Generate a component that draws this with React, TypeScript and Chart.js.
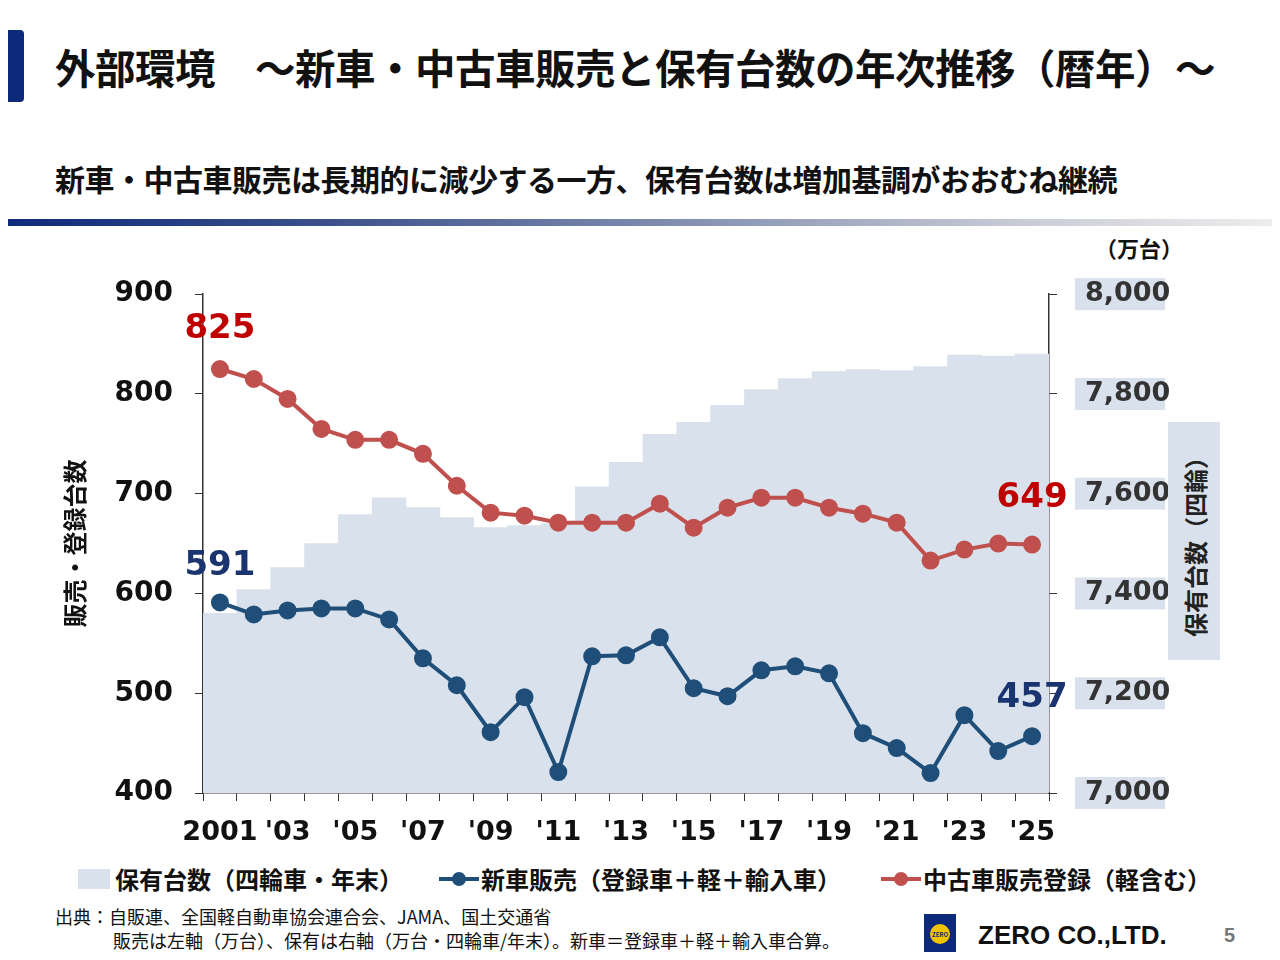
import React, { useEffect, useRef } from "react";
import { Chart, registerables } from "chart.js";
Chart.register(...registerables);

const years = ["2001","2002","2003","2004","2005","2006","2007","2008","2009","2010","2011","2012","2013","2014","2015","2016","2017","2018","2019","2020","2021","2022","2023","2024","2025"];
const tickLabels = ["2001","","'03","","'05","","'07","","'09","","'11","","'13","","'15","","'17","","'19","","'21","","'23","","'25"];
const newCar = [591,579,583,585,585,574,535,508,461,496,421,537,538,556,505,497,523,527,520,460,445,420,478,442,457];
const usedCar = [825,815,795,765,754,754,740,708,681,678,671,671,671,690,666,686,696,696,686,680,671,633,644,650,649];
const owned = [7360,7408,7452,7500,7558,7592,7572,7552,7532,7536,7540,7614,7663,7719,7743,7777,7809,7831,7845,7849,7847,7855,7878,7876,7880];

const FONT = "'DejaVu Sans', Verdana, sans-serif";
const JP = "'Noto Sans CJK JP', sans-serif";

const decor = {
  id: "decor",
  beforeDraw(chart: any) {
    const { ctx } = chart;
    const y1 = chart.scales.y1;
    ctx.save();
    ctx.fillStyle = "#d9e2ec";
    [7000, 7200, 7400, 7600, 7800, 8000].forEach((v) => {
      const py = y1.getPixelForValue(v);
      ctx.fillRect(y1.left + 26, py - 16, 90, 32);
    });
    ctx.restore();
  },
  afterDatasetsDraw(chart: any) {
    const { ctx } = chart;
    const draw = (di: number, idx: number, color: string, dx: number, dy: number) => {
      const pt = chart.getDatasetMeta(di).data[idx];
      const v = chart.data.datasets[di].data[idx];
      ctx.save();
      ctx.font = `bold 34px ${FONT}`;
      ctx.fillStyle = color;
      ctx.textAlign = "center";
      ctx.textBaseline = "middle";
      ctx.fillText(String(v), pt.x + dx, pt.y + dy);
      ctx.restore();
    };
    draw(0, 0, "#c00000", 0, -40);
    draw(1, 0, "#1a3470", 0, -36);
    draw(0, 24, "#c00000", 0, -46);
    draw(1, 24, "#1a3470", 0, -38);
  },
};

export default function App() {
  const ref = useRef<HTMLCanvasElement>(null);
  useEffect(() => {
    const chart = new Chart(ref.current!, {
      data: {
        labels: years,
        datasets: [
          { type: "line", label: "中古車販売", data: usedCar, yAxisID: "y", borderColor: "#c0504d", backgroundColor: "#c0504d", borderWidth: 4, pointRadius: 7, pointBackgroundColor: "#c0504d", order: 1 } as any,
          { type: "line", label: "新車", data: newCar, yAxisID: "y", borderColor: "#1f4e79", backgroundColor: "#1f4e79", borderWidth: 4, pointRadius: 7, pointBackgroundColor: "#1f4e79", order: 2 } as any,
          { type: "bar", label: "保有", data: owned, yAxisID: "y1", backgroundColor: "#d9e2ec", categoryPercentage: 1, barPercentage: 1, order: 5 } as any,
        ],
      },
      options: {
        animation: false,
        responsive: false,
        layout: { padding: { top: 41, left: 0, right: 0, bottom: 0 } },
        plugins: { legend: { display: false }, tooltip: { enabled: false } },
        scales: {
          x: {
            offset: true,
            grid: { display: true, drawOnChartArea: false, offset: true, tickLength: 8, color: "#333" },
            border: { color: "#333", width: 1.5 },
            ticks: { autoSkip: false, maxRotation: 0, color: "#111", font: { family: FONT, size: 27, weight: "bold" }, padding: 16, callback: (_v: any, i: number) => tickLabels[i] },
            afterFit: (s: any) => { s.height = 67; },
          },
          y: {
            position: "left", min: 400, max: 900,
            ticks: { stepSize: 100, color: "#111", font: { family: FONT, size: 28, weight: "bold" }, padding: 22 },
            grid: { drawOnChartArea: false, tickLength: 8, color: "#333" },
            border: { color: "#333", width: 1.5 },
            title: { display: true, text: "販売・登録台数", color: "#111", padding: { top: 0, bottom: 0 }, font: { family: JP, size: 24, weight: "bold" } },
            afterFit: (s: any) => { s.width = 143; },
          },
          y1: {
            position: "right", min: 7000, max: 8000,
            ticks: { stepSize: 200, color: "#333", font: { family: FONT, size: 27, weight: "bold" }, padding: 28, callback: (v: any) => Number(v).toLocaleString("en-US") },
            grid: { drawOnChartArea: false, tickLength: 8, color: "#333" },
            border: { color: "#333", width: 1.5 },
            afterFit: (s: any) => { s.width = 181; },
          },
        },
      },
      plugins: [decor],
    });
    return () => chart.destroy();
  }, []);

  const abs = (s: React.CSSProperties): React.CSSProperties => ({ position: "absolute", ...s });
  return (
    <div style={{ position: "relative", width: 1280, height: 960, margin: -8, fontFamily: JP, background: "#fff", overflow: "hidden" }}>
      <div style={abs({ left: 0, top: 30, width: 24, height: 72, background: "#0d2a7a", borderRadius: "0 4px 4px 0" })} />
      <div style={abs({ left: 55, top: 37, fontSize: 40.5, fontWeight: 700, color: "#111", whiteSpace: "nowrap", letterSpacing: -0.5 })}>外部環境　～新車・中古車販売と保有台数の年次推移（暦年）～</div>
      <div style={abs({ left: 55, top: 156, fontSize: 30, fontWeight: 700, color: "#111", whiteSpace: "nowrap", letterSpacing: -0.5 })}>新車・中古車販売は長期的に減少する一方、保有台数は増加基調がおおむね継続</div>
      <div style={abs({ left: 0, top: 219, width: 1280, height: 7, borderRadius: 4, background: "linear-gradient(to right, #0d2a7a 0%, #3a4f8a 25%, #c9ccd6 80%, #eeeeee 100%)" })} />
      <div style={abs({ left: 1095, top: 231, fontSize: 22, fontWeight: 700, color: "#111" })}>（万台）</div>
      <canvas ref={ref} width={1170} height={610} style={abs({ left: 60, top: 250 })} />
      <div style={abs({ left: 1168, top: 422, width: 52, height: 238, background: "#d9e2ec" })}>
        <div style={abs({ left: 26, top: 119, transform: "translate(-50%,-50%) rotate(-90deg)", whiteSpace: "nowrap", fontSize: 24, fontWeight: 700, color: "#222" })}>保有台数（四輪）</div>
      </div>
      <div style={abs({ left: 78, top: 861, display: "flex", alignItems: "center", fontSize: 24, fontWeight: 700, color: "#111", whiteSpace: "nowrap" })}>
        <span style={{ display: "inline-block", width: 32, height: 20, background: "#d9e2ec", marginRight: 5 }} />
        <span>保有台数（四輪車・年末）</span>
        <span style={{ position: "relative", display: "inline-block", width: 40, height: 14, marginLeft: 36, marginRight: 2 }}>
          <span style={abs({ left: 0, top: 5, width: 40, height: 4, background: "#1f4e79" })} />
          <span style={abs({ left: 13, top: 0, width: 14, height: 14, borderRadius: 7, background: "#1f4e79" })} />
        </span>
        <span>新車販売（登録車＋軽＋輸入車）</span>
        <span style={{ position: "relative", display: "inline-block", width: 40, height: 14, marginLeft: 40, marginRight: 2 }}>
          <span style={abs({ left: 0, top: 5, width: 40, height: 4, background: "#c0504d" })} />
          <span style={abs({ left: 13, top: 0, width: 14, height: 14, borderRadius: 7, background: "#c0504d" })} />
        </span>
        <span>中古車販売登録（軽含む）</span>
      </div>
      <div style={abs({ left: 55, top: 904, fontSize: 18, color: "#111", lineHeight: "24px", whiteSpace: "nowrap" })}>
        <div>出典：自販連、全国軽自動車協会連合会、JAMA、国土交通省</div>
        <div style={{ paddingLeft: 58 }}>販売は左軸（万台）、保有は右軸（万台・四輪車/年末）。新車＝登録車＋軽＋輸入車合算。</div>
      </div>
      <div style={abs({ left: 924, top: 914, width: 32, height: 40, background: "#0d2a7a", display: "flex", alignItems: "center", justifyContent: "center" })}>
        <div style={{ width: 20, height: 20, borderRadius: 10, background: "#f2c400", fontSize: 6, fontWeight: 700, display: "flex", alignItems: "center", justifyContent: "center", color: "#0d2a7a" }}>ZERO</div>
      </div>
      <div style={abs({ left: 978, top: 920, fontSize: 26, fontWeight: 700, color: "#111", fontFamily: "'Liberation Sans', Arial, sans-serif", whiteSpace: "nowrap" })}>ZERO CO.,LTD.</div>
      <div style={abs({ left: 1224, top: 924, fontSize: 20, fontWeight: 700, color: "#777", fontFamily: "'Liberation Sans', Arial, sans-serif" })}>5</div>
    </div>
  );
}
